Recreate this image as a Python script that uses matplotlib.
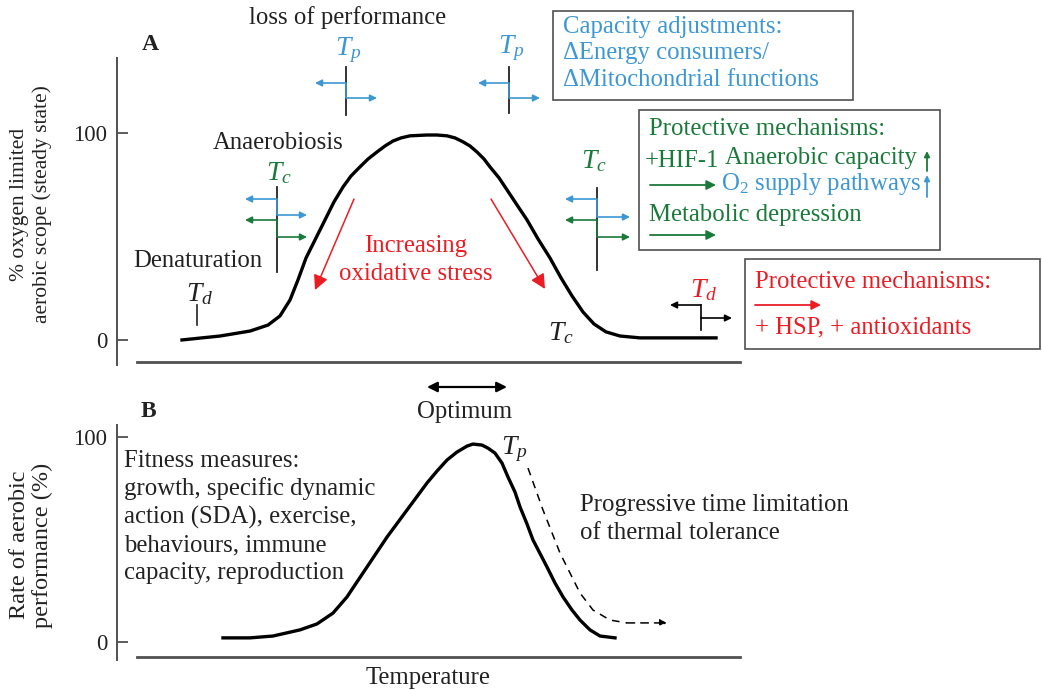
import matplotlib
matplotlib.use("Agg")
import matplotlib.pyplot as plt
from matplotlib.patches import Rectangle

plt.rcParams['font.family'] = ['Liberation Serif', 'DejaVu Serif']
plt.rcParams['mathtext.fontset'] = 'custom'
plt.rcParams['mathtext.rm'] = 'Liberation Serif'
plt.rcParams['mathtext.it'] = 'Liberation Serif:italic'

# panel A: oxygen limited aerobic scope vs temperature (arbitrary units)
temp_a = [10.43, 16.53, 21.35, 24.24, 26.16, 27.77, 29.05, 30.34, 31.78, 33.39,
          34.83, 36.28, 37.56, 39.00, 40.29, 41.73, 43.02, 44.30, 45.59, 47.03,
          49.76, 51.36, 52.97, 54.25, 55.54, 56.66, 57.78, 58.91, 59.87, 61.32,
          62.60, 64.21, 65.81, 67.58, 69.50, 71.27, 73.03, 74.80, 76.57, 78.49,
          80.74, 83.95, 96.15]
scope_a = [0, 1.9, 4.3, 7.2, 11.6, 19.3, 29.0, 39.6, 48.3, 58.0,
           66.7, 73.9, 79.2, 83.6, 87.4, 90.8, 93.7, 96.1, 97.6, 98.6,
           99.0, 99.0, 98.6, 97.6, 95.7, 93.7, 90.8, 87.4, 83.6, 78.3,
           72.5, 65.2, 58.0, 48.8, 39.6, 30.0, 21.3, 13.5, 7.7, 3.9,
           1.9, 1.0, 1.0]

# panel B: rate of aerobic performance
temp_b = [17.01, 21.35, 25.04, 29.37, 32.10, 34.67, 36.92, 38.52, 40.13, 43.34,
          46.55, 49.76, 51.36, 52.97, 54.57, 56.18, 57.14, 58.59, 59.55, 60.67,
          61.80, 62.76, 63.88, 64.69, 65.81, 66.77, 69.02, 70.30, 71.59, 73.03,
          74.32, 75.92, 77.53, 79.94]
perf_b = [2.0, 2.0, 2.9, 5.9, 8.8, 14.1, 22.0, 29.3, 36.6, 51.2,
          64.4, 77.6, 83.4, 88.8, 92.7, 95.6, 96.6, 96.1, 94.6, 92.2,
          87.3, 80.5, 73.2, 65.9, 57.6, 49.8, 36.6, 28.8, 22.0, 15.6,
          10.7, 5.9, 2.9, 2.0]
# time-limited tolerance (dashed)
temp_dash = [65.97, 68.38, 71.11, 74.32, 76.40, 79.13, 81.86, 88.28]
perf_dash = [84.9, 64.4, 43.4, 23.9, 15.6, 10.7, 9.3, 9.3]

yticks = [0, 100]

W, H = 1042, 691
fig = plt.figure(figsize=(W / 100, H / 100), dpi=100)

blue = '#3d97d3'
green = '#1a7a3a'
red = '#ea1d25'
grey = '#505050'
ink = '#222222'
fs = 17.8
fsT = 20


def fax(l, t, r, b):
    return fig.add_axes([l / W, 1 - b / H, (r - l) / W, (b - t) / H])


def style(ax, ylo, yhi, ybase):
    ax.set_xlim(0, 100)
    ax.set_ylim(ylo, yhi)
    ax.set_facecolor('none')
    for s in ['top', 'right']:
        ax.spines[s].set_visible(False)
    ax.spines['left'].set_color(grey)
    ax.spines['left'].set_linewidth(1.4)
    ax.spines['bottom'].set_color(grey)
    ax.spines['bottom'].set_linewidth(2)
    ax.spines['bottom'].set_position(('data', ybase))
    ax.spines['bottom'].set_bounds(3.2, 100)
    ax.set_xticks([])
    ax.set_yticks(yticks)
    ax.tick_params(axis='y', direction='in', length=8, width=1.3, color=grey,
                   labelsize=16.5, labelcolor=ink, pad=7)


ax1 = fax(117, 58, 740, 365)
style(ax1, -12.1, 136.2, -10.6)
ax1.plot(temp_a, scope_a, color='black', lw=2.4, solid_joinstyle='round')

ax2 = fax(117, 425, 740, 660)
style(ax2, -8.8, 105.9, -7.3)
ax2.plot(temp_b, perf_b, color='black', lw=2.4, solid_joinstyle='round')
ax2.plot(temp_dash[:-1], perf_dash[:-1], color='black', lw=1.1, ls=(0, (5, 4)))
ax2.annotate('', xy=(temp_dash[-1], perf_dash[-1]), xytext=(temp_dash[-2], perf_dash[-2]),
             arrowprops=dict(arrowstyle='-|>', color='black', lw=1.1, ls=(0, (5, 4)),
                             mutation_scale=10, shrinkA=0, shrinkB=0))

# overlay in pixel coordinates for the schematic annotations
ov = fig.add_axes([0, 0, 1, 1])
ov.set_xlim(0, W)
ov.set_ylim(H, 0)
ov.axis('off')


def arrow(x0, y0, x1, y1, color, lw=1.2, ms=10, style='-|>'):
    ov.annotate('', xy=(x1, y1), xytext=(x0, y0),
                arrowprops=dict(arrowstyle=style, color=color, lw=lw,
                                mutation_scale=ms, shrinkA=0, shrinkB=0))


def step(x, y1, y2, left, right, color):
    ov.plot([x, x], [y1, y2], color=color, lw=1.2, solid_capstyle='butt')
    arrow(x, y1, left, y1, color)
    arrow(x, y2, right, y2, color)


def txt(x, y, s, color=ink, ha='left', size=fs, **kw):
    ov.text(x, y, s, color=color, ha=ha, va='center', fontsize=size, **kw)


# threshold markers
ov.plot([346, 346], [67, 115], color=ink, lw=1.3)
step(346, 83, 98, 315, 377, blue)
ov.plot([509, 509], [67, 113], color=ink, lw=1.3)
step(509, 83, 98, 478, 540, blue)

ov.plot([277, 277], [187, 272], color=ink, lw=1.3)
step(277, 199, 215, 245, 307, blue)
step(277, 220, 237, 245, 307, green)
ov.plot([597, 597], [188, 270], color=ink, lw=1.3)
step(597, 199, 217, 565, 630, blue)
step(597, 220, 237, 565, 630, green)

ov.plot([197, 197], [305, 325], color=ink, lw=1.2)
ov.plot([701, 701], [305, 330], color='black', lw=1.2)
arrow(701, 305, 670, 305, 'black')
arrow(701, 318, 732, 318, 'black')

# labels
txt(150, 44, 'A', ha='center', fontweight='bold', size=17)
txt(148, 411, 'B', ha='center', fontweight='bold', size=17)
txt(348, 18, 'loss of performance', ha='center')
txt(348, 50, r'$T_p$', color=blue, ha='center', size=fsT)
txt(511, 48, r'$T_p$', color=blue, ha='center', size=fsT)
txt(278, 143, 'Anaerobiosis', ha='center')
txt(279, 173, r'$T_c$', color=green, ha='center', size=fsT)
txt(594, 161, r'$T_c$', color=green, ha='center', size=fsT)
txt(133, 261, 'Denaturation')
txt(200, 294, r'$T_d$', ha='center', size=fsT)
txt(704, 290, r'$T_d$', color=red, ha='center', size=fsT)
txt(561, 333, r'$T_c$', ha='center', size=fsT)

arrow(354, 199, 315, 290, red, lw=1.1, ms=22)
arrow(491, 199, 545, 289, red, lw=1.1, ms=22)
txt(416, 246, 'Increasing', color=red, ha='center')
txt(416, 274, 'oxidative stress', color=red, ha='center')

# boxes
ov.add_patch(Rectangle((553, 11), 300, 89, fc='white', ec=grey, lw=1.2))
txt(563, 27, 'Capacity adjustments:', color=blue)
txt(563, 53, '\u0394Energy consumers/', color=blue)
txt(563, 80, '\u0394Mitochondrial functions', color=blue)

ov.add_patch(Rectangle((639, 110), 301, 140, fc='white', ec=grey, lw=1.2))
txt(649, 129, 'Protective mechanisms:', color=green)
txt(645, 161, '+HIF-1', color=green)
txt(725, 158, 'Anaerobic capacity', color=green)
arrow(927, 171, 927, 151, green, lw=1.3, ms=8)
arrow(650, 185, 716, 185, green, lw=1.3, ms=14)
txt(721, 184, r'O$_2$ supply pathways', color=blue)
arrow(927, 197, 927, 175, blue, lw=1.3, ms=8)
txt(649, 215, 'Metabolic depression', color=green)
arrow(650, 235, 716, 235, green, lw=1.3, ms=14)

ov.add_patch(Rectangle((745, 259), 295, 90, fc='white', ec=grey, lw=1.2))
txt(755, 282, 'Protective mechanisms:', color=red)
arrow(755, 305, 821, 305, red, lw=1.3, ms=14)
txt(755, 327, '+ HSP, + antioxidants', color=red)

# panel B text
arrow(427, 387, 507, 387, 'black', lw=1.6, ms=15, style='<|-|>')
txt(465, 412, 'Optimum', ha='center')
txt(514, 449, r'$T_p$', ha='center', size=fsT)
for i, line in enumerate(['Fitness measures:', 'growth, specific dynamic',
                          'action (SDA), exercise,', 'behaviours, immune',
                          'capacity, reproduction']):
    txt(124, 461 + 28 * i, line)
txt(580, 505, 'Progressive time limitation')
txt(580, 533, 'of thermal tolerance')
txt(428, 678, 'Temperature', ha='center')

ov.text(31, 204, '% oxygen limited\naerobic scope (steady state)', rotation=90,
        ha='center', va='center', fontsize=15.5, color=ink, linespacing=1.25)
ov.text(31, 545, 'Rate of aerobic\nperformance (%)', rotation=90,
        ha='center', va='center', fontsize=17.5, color=ink, linespacing=1.12)

fig.savefig('out.png', dpi=100)
